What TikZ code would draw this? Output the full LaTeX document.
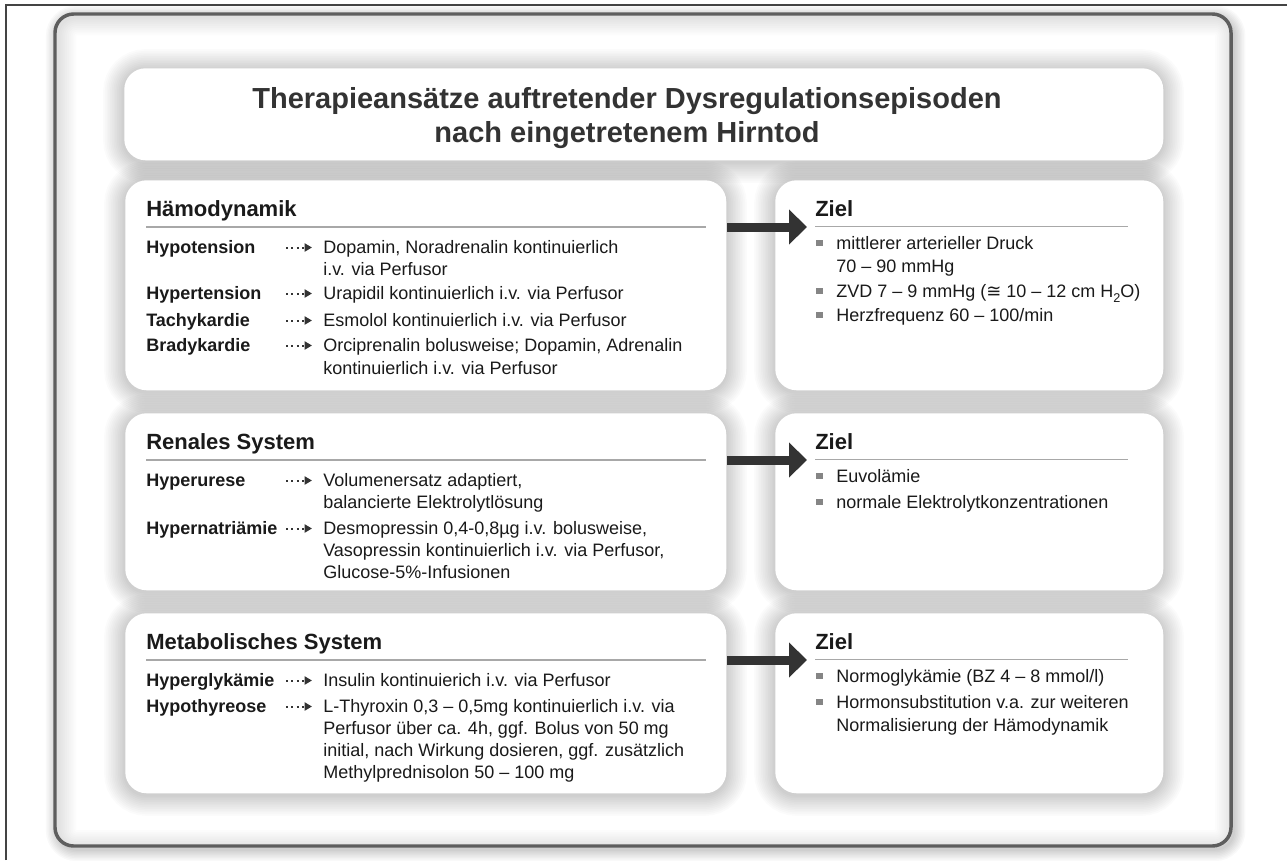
\documentclass[tikz,border=0pt]{standalone}
\usepackage{fontspec}
\setmainfont{Liberation Sans}
\newfontfamily\symfont{DejaVu Sans}
\usetikzlibrary{arrows.meta}
\definecolor{textc}{HTML}{1A1A1A}
\definecolor{titlec}{HTML}{333333}
\definecolor{rulec}{HTML}{A8A8A8}
\definecolor{framec}{HTML}{5E5E5E}
\definecolor{arrowc}{HTML}{333333}
\definecolor{bulc}{HTML}{858585}
\definecolor{pagec}{HTML}{444444}

\newcommand\panelshadow[4]{%
  \foreach \i in {1,...,12}{%
    \draw[line width=\i*2.6pt, draw=black, draw opacity=0.016, rounded corners=16pt,
          transform canvas={yshift=-1.5pt}] (#1,#2) rectangle (#3,#4);}}
\newcommand\therow[4]{%
  \node[lbl] (#1l) at (146,#2) {#3};
  \coordinate (#1a) at (286,#2-5.5);
  \coordinate (#1b) at (312,#2-5.5);
  \draw[dotarr] (#1a) -- (#1b);
  \node[txt] (#1t) at (323,#2) {#4};}
\newcommand\zitem[3]{%
  \node[bul] (#1b) at (819.5,#2-6) {};
  \node[txt] (#1t) at (836,#2) {#3};}

\begin{document}
\begin{tikzpicture}[x=0.75pt,y=-0.75pt,
  hdr/.style={anchor=base west, inner sep=0, font=\bfseries\fontsize{16.5}{18}\selectfont, text=textc},
  lbl/.style={anchor=base west, inner sep=0, font=\bfseries\fontsize{13.5}{16}\selectfont, text=textc},
  txt/.style={anchor=base west, inner sep=0, font=\fontsize{13.5}{16}\selectfont, text=textc},
  ttl/.style={anchor=base, inner sep=0, font=\bfseries\fontsize{21.75}{24}\selectfont, text=titlec},
  panel/.style={fill=white, draw=none, rounded corners=16pt, anchor=north west, inner sep=0},
  hrule/.style={draw=rulec, line width=0.8pt},
  dotarr/.style={draw=arrowc, line width=1.5pt, dash pattern=on 1.5pt off 2.6pt, -{Triangle[length=5.5pt,width=6pt]}},
  bigarr/.style={draw=arrowc, line width=6.75pt, -{Triangle[length=13.5pt,width=25.5pt]}},
  bul/.style={fill=bulc, draw=none, inner sep=0, minimum size=5pt},
]
\useasboundingbox (0,0) rectangle (1287,860);
\fill[white] (0,0) rectangle (1287,860);
% page border (top and left)
\draw[pagec, line width=1.1pt] (6,860) -- (6,5) -- (1287,5);

% outer frame
\foreach \i in {1,...,8}{%
  \draw[line width=\i*2.2pt, draw=black, draw opacity=0.025, rounded corners=14pt,
        transform canvas={shift={(2pt,-2.5pt)}}] (55,14) rectangle (1231,846);}
\fill[white, rounded corners=14pt] (55,14) rectangle (1231,846);
\begin{scope}
  \clip[rounded corners=14pt] (55,14) rectangle (1231,846);
  \foreach \i in {1,...,10}{%
    \draw[line width=\i*2.8pt, draw=black, draw opacity=0.013, rounded corners=14pt,
          transform canvas={shift={(2pt,-2pt)}}] (55,14) rectangle (1231,846);}
\end{scope}
\draw[framec, line width=2.6pt, rounded corners=14pt] (55,14) rectangle (1231,846);

% panel shadows
\panelshadow{124}{68}{1163}{160}
\panelshadow{125}{180}{726}{390}
\panelshadow{775}{180}{1163}{390}
\panelshadow{125}{413}{726}{590}
\panelshadow{775}{413}{1163}{590}
\panelshadow{125}{613}{726}{793}
\panelshadow{775}{613}{1163}{793}

% panels
\node[panel, minimum width={(1163-124)*0.75pt}, minimum height={(160-68)*0.75pt}] (tbox) at (124,68) {};
\node[panel, minimum width={(726-125)*0.75pt}, minimum height={(390-180)*0.75pt}] (hbox) at (125,180) {};
\node[panel, minimum width={(1163-775)*0.75pt}, minimum height={(390-180)*0.75pt}] (zbox1) at (775,180) {};
\node[panel, minimum width={(726-125)*0.75pt}, minimum height={(590-413)*0.75pt}] (rbox) at (125,413) {};
\node[panel, minimum width={(1163-775)*0.75pt}, minimum height={(590-413)*0.75pt}] (zbox2) at (775,413) {};
\node[panel, minimum width={(726-125)*0.75pt}, minimum height={(793-613)*0.75pt}] (mbox) at (125,613) {};
\node[panel, minimum width={(1163-775)*0.75pt}, minimum height={(793-613)*0.75pt}] (zbox3) at (775,613) {};

% title
\node[ttl] (title1) at (627,108) {Therapieansätze auftretender Dysregulationsepisoden};
\node[ttl] (title2) at (627,142) {nach eingetretenem Hirntod};

% ---------- Haemodynamik ----------
\node[hdr] (hh) at (146,216) {Hämodynamik};
\coordinate (hra) at (146,227); \coordinate (hrb) at (706,227);
\draw[hrule] (hra) -- (hrb);
\therow{ha}{253}{Hypotension}{Dopamin, Noradrenalin kontinuierlich}
\node[txt] (hac) at (323,275) {i.v. via Perfusor};
\therow{hb}{299}{Hypertension}{Urapidil kontinuierlich i.v. via Perfusor}
\therow{hc}{326}{Tachykardie}{Esmolol kontinuierlich i.v. via Perfusor}
\therow{hd}{351}{Bradykardie}{Orciprenalin bolusweise; Dopamin, Adrenalin}
\node[txt] (hdc) at (323,374) {kontinuierlich i.v. via Perfusor};

% ---------- Renales System ----------
\node[hdr] (rh) at (146,449) {Renales System};
\coordinate (rra) at (146,460); \coordinate (rrb) at (706,460);
\draw[hrule] (rra) -- (rrb);
\therow{ra}{486}{Hyperurese}{Volumenersatz adaptiert,}
\node[txt] (rac) at (323,508) {balancierte Elektrolytlösung};
\therow{rb}{534}{Hypernatriämie}{Desmopressin 0,4-0,8µg i.v. bolusweise,}
\node[txt] (rbc) at (323,556) {Vasopressin kontinuierlich i.v. via Perfusor,};
\node[txt] (rbd) at (323,578) {Glucose-5\%-Infusionen};

% ---------- Metabolisches System ----------
\node[hdr] (mh) at (146,649) {Metabolisches System};
\coordinate (mra) at (146,660); \coordinate (mrb) at (706,660);
\draw[hrule] (mra) -- (mrb);
\therow{ma}{686}{Hyperglykämie}{Insulin kontinuierich i.v. via Perfusor}
\therow{mb}{712}{Hypothyreose}{L-Thyroxin 0,3 – 0,5mg kontinuierlich i.v. via}
\node[txt] (mbc) at (323,734) {Perfusor über ca. 4h, ggf. Bolus von 50 mg};
\node[txt] (mbd) at (323,756) {initial, nach Wirkung dosieren, ggf. zusätzlich};
\node[txt] (mbe) at (323,778) {Methylprednisolon 50 – 100 mg};

% ---------- Ziel 1 ----------
\node[hdr] (z1h) at (815,216) {Ziel};
\coordinate (z1ra) at (815,226.5); \coordinate (z1rb) at (1128,226.5);
\draw[hrule] (z1ra) -- (z1rb);
\zitem{z1a}{249}{mittlerer arterieller Druck}
\node[txt] (z1ac) at (836,272) {70 – 90 mmHg};
\zitem{z1b}{297}{ZVD 7 – 9 mmHg ({\symfont ≅} 10 – 12 cm H\raisebox{-0.28em}{\fontsize{9.5}{10}\selectfont 2}O)}
\zitem{z1c}{321}{Herzfrequenz 60 – 100/min}

% ---------- Ziel 2 ----------
\node[hdr] (z2h) at (815,449) {Ziel};
\coordinate (z2ra) at (815,459.5); \coordinate (z2rb) at (1128,459.5);
\draw[hrule] (z2ra) -- (z2rb);
\zitem{z2a}{482}{Euvolämie}
\zitem{z2b}{508}{normale Elektrolytkonzentrationen}

% ---------- Ziel 3 ----------
\node[hdr] (z3h) at (815,649) {Ziel};
\coordinate (z3ra) at (815,659.5); \coordinate (z3rb) at (1128,659.5);
\draw[hrule] (z3ra) -- (z3rb);
\zitem{z3a}{682}{Normoglykämie (BZ 4 – 8 mmol/l)}
\zitem{z3b}{708}{Hormonsubstitution v.a. zur weiteren}
\node[txt] (z3bc) at (836,731) {Normalisierung der Hämodynamik};

% big arrows
\coordinate (a1s) at (727,227); \coordinate (a1e) at (807,227);
\coordinate (a2s) at (727,460); \coordinate (a2e) at (807,460);
\coordinate (a3s) at (727,660); \coordinate (a3e) at (807,660);
\draw[bigarr] (a1s) -- (a1e);
\draw[bigarr] (a2s) -- (a2e);
\draw[bigarr] (a3s) -- (a3e);
\end{tikzpicture}
\end{document}
